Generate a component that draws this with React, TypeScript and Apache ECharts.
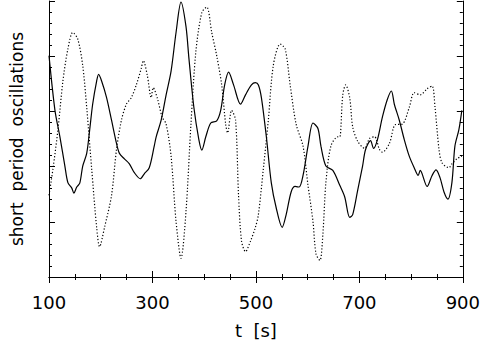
import React, { useEffect, useRef } from "react";
import * as echarts from "echarts";

// time stamps (s) and values for the solid curve
const solidT = [100, 111.5, 121.1, 130.7, 136.5, 144.1, 148.0, 153.7, 159.5, 165.2, 172.9, 178.7, 184.4, 192.1, 195.9, 201.7, 211.3, 220.9, 230.5, 236.2, 245.8, 255.4, 265.0, 276.5, 284.2, 293.8, 303.4, 307.2, 316.8, 326.4, 336.0, 345.6, 355.2, 364.8, 370.5, 380.1, 389.7, 395.4, 403.1, 412.7, 424.2, 431.9, 439.6, 447.2, 456.8, 470.3, 479.9, 491.4, 499.0, 504.8, 510.6, 520.2, 529.7, 539.3, 550.8, 558.5, 568.1, 575.8, 583.5, 591.1, 600.7, 610.3, 619.9, 625.7, 635.3, 648.7, 662.1, 671.7, 681.3, 687.1, 696.7, 706.2, 712.0, 721.6, 727.4, 735.0, 744.6, 754.2, 761.9, 767.6, 777.2, 786.8, 796.4, 806.0, 813.7, 817.6, 831.0, 840.6, 848.2, 855.9, 863.6, 871.2, 878.9, 884.7, 892.4, 898.1];
const solidV = [4.01, 3.02, 2.54, 2.01, 1.71, 1.61, 1.52, 1.63, 1.70, 2.01, 2.24, 2.67, 3.13, 3.55, 3.67, 3.55, 3.25, 2.84, 2.42, 2.24, 2.14, 2.05, 1.89, 1.78, 1.87, 1.98, 2.37, 2.54, 2.84, 3.30, 3.73, 4.43, 4.98, 4.54, 3.96, 3.07, 2.49, 2.30, 2.54, 2.79, 2.83, 3.02, 3.48, 3.71, 3.48, 3.13, 3.30, 3.48, 3.52, 3.48, 3.25, 2.54, 1.71, 1.25, 0.90, 1.13, 1.54, 1.64, 1.63, 1.84, 2.37, 2.79, 2.69, 2.37, 2.01, 1.93, 1.66, 1.45, 1.08, 1.13, 1.57, 2.01, 2.31, 2.47, 2.33, 2.49, 2.90, 3.22, 3.37, 3.13, 2.84, 2.49, 2.19, 1.98, 1.84, 1.93, 1.64, 1.84, 1.94, 1.80, 1.54, 1.41, 1.71, 2.37, 2.67, 3.02];

// time stamps (s) and values for the dotted curve
const dottedT = [100, 107.7, 117.3, 126.9, 136.5, 146.0, 155.6, 165.2, 172.9, 182.5, 192.1, 197.8, 207.4, 220.9, 230.5, 240.0, 249.6, 259.2, 268.8, 278.4, 282.3, 289.9, 297.6, 301.4, 309.1, 318.7, 326.4, 336.0, 345.6, 355.2, 364.8, 374.4, 383.9, 395.4, 405.0, 414.6, 424.2, 433.8, 441.5, 445.3, 453.0, 460.7, 466.4, 472.2, 479.9, 489.5, 499.0, 504.8, 514.4, 524.0, 533.6, 547.0, 556.6, 566.2, 577.7, 591.1, 600.7, 610.3, 616.1, 623.8, 629.5, 635.3, 644.9, 658.3, 662.1, 667.9, 673.6, 681.3, 687.1, 696.7, 710.1, 719.7, 729.3, 738.9, 744.6, 758.1, 769.6, 783.0, 796.4, 806.0, 817.6, 831.0, 840.6, 846.3, 854.0, 859.7, 873.1, 878.9, 888.5, 898.1];
const dottedV = [1.48, 1.96, 2.67, 3.55, 4.13, 4.43, 4.31, 3.83, 3.07, 1.96, 0.90, 0.55, 0.90, 1.48, 2.31, 2.84, 3.13, 3.25, 3.48, 3.78, 3.92, 3.66, 3.25, 3.43, 3.25, 2.90, 2.77, 2.19, 1.01, 0.34, 1.18, 2.77, 4.08, 4.79, 4.89, 4.43, 4.01, 3.48, 2.77, 2.61, 3.02, 2.84, 1.48, 0.65, 0.46, 0.65, 0.90, 1.13, 1.96, 2.84, 3.83, 4.22, 4.13, 3.48, 2.77, 2.37, 1.66, 1.01, 0.42, 0.30, 0.78, 1.71, 2.37, 2.54, 2.54, 3.30, 3.48, 3.25, 2.72, 2.46, 2.33, 2.51, 2.54, 2.31, 2.26, 2.42, 2.76, 2.77, 3.07, 3.34, 3.30, 3.41, 3.46, 3.07, 2.31, 2.07, 1.98, 2.05, 2.14, 2.19];

const xTicks = [100, 300, 500, 700, 900];

export default function App() {
  const ref = useRef<HTMLDivElement>(null);
  useEffect(() => {
    if (!ref.current) return;
    const chart = echarts.init(ref.current, null, { renderer: "svg" });
    const font = "DejaVu Sans";
    const axisCommon = {
      axisLine: { show: true, lineStyle: { color: "#000", width: 1 } },
      axisTick: { show: true, inside: true, length: 6, lineStyle: { color: "#000" } },
      minorTick: { show: true, length: 3, lineStyle: { color: "#000" } },
      splitLine: { show: false },
      minorSplitLine: { show: false },
    };
    chart.setOption({
      animation: false,
      backgroundColor: "#fff",
      grid: { left: 49, right: 17, top: 1, bottom: 60, containLabel: false },
      xAxis: [
        {
          type: "value",
          min: xTicks[0],
          max: xTicks[xTicks.length - 1],
          interval: 200,
          position: "bottom",
          ...axisCommon,
          minorTick: { ...axisCommon.minorTick, splitNumber: 4 },
          axisLabel: { show: true, color: "#000", fontFamily: font, fontSize: 18, margin: 16 },
          name: "t  [s]",
          nameLocation: "middle",
          nameGap: 44,
          nameTextStyle: { color: "#000", fontFamily: font, fontSize: 18 },
        },
        {
          type: "value",
          min: xTicks[0],
          max: xTicks[xTicks.length - 1],
          interval: 200,
          position: "top",
          ...axisCommon,
          minorTick: { ...axisCommon.minorTick, splitNumber: 4 },
          axisLabel: { show: false },
        },
      ],
      yAxis: [
        {
          type: "value",
          min: 0,
          max: 5,
          interval: 1,
          position: "left",
          ...axisCommon,
          minorTick: { ...axisCommon.minorTick, splitNumber: 5 },
          axisLabel: { show: false },
          name: "short  period  oscillations",
          nameLocation: "middle",
          nameGap: 24,
          nameTextStyle: { color: "#000", fontFamily: font, fontSize: 17 },
        },
        {
          type: "value",
          min: 0,
          max: 5,
          interval: 1,
          position: "right",
          ...axisCommon,
          minorTick: { ...axisCommon.minorTick, splitNumber: 5 },
          axisLabel: { show: false },
        },
      ],
      series: [
        {
          type: "line",
          data: solidT.map((t, i) => [t, solidV[i]]),
          showSymbol: false,
          smooth: 0.3,
          lineStyle: { color: "#000", width: 1.2 },
          xAxisIndex: 0,
          yAxisIndex: 0,
        },
        {
          type: "line",
          data: dottedT.map((t, i) => [t, dottedV[i]]),
          showSymbol: false,
          smooth: 0.3,
          lineStyle: { color: "#000", width: 1.2, type: [1.2, 2] },
          xAxisIndex: 0,
          yAxisIndex: 0,
        },
      ],
    });
    return () => chart.dispose();
  }, []);
  return (
    <div
      ref={ref}
      style={{ position: "fixed", left: 0, top: 0, width: 483, height: 344, background: "#fff" }}
    />
  );
}
